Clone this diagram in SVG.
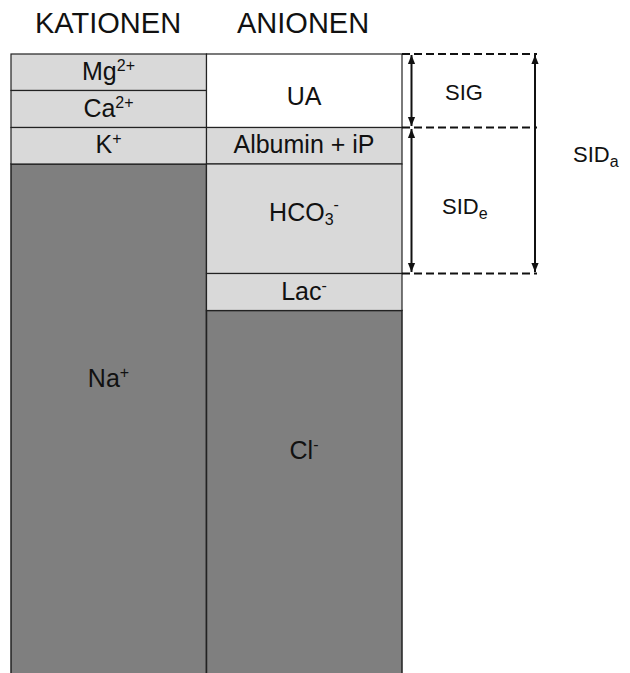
<svg xmlns="http://www.w3.org/2000/svg" width="630" height="673" viewBox="0 0 630 673">
<defs>
<style>
text{font-family:"Liberation Sans",Arial,sans-serif;fill:#111;}
.t{font-size:29px;}
.c{font-size:25px;text-anchor:middle;}
.s{font-size:16px;}
.l{fill:#d9d9d9;stroke:#222;stroke-width:1.2;}
.d{fill:#7f7f7f;stroke:#222;stroke-width:1.5;}
.w{fill:#fff;stroke:#222;stroke-width:1.2;}
.dash{stroke:#111;stroke-width:2;stroke-dasharray:8,4;fill:none;}
.arr{stroke:#111;stroke-width:2;fill:none;marker-start:url(#a);marker-end:url(#a);}
</style>
<marker id="a" viewBox="0 0 10 10" refX="10" refY="5" markerWidth="4.5" markerHeight="4.5" orient="auto-start-reverse" markerUnits="strokeWidth">
<path d="M0,1 L10,5 L0,9 Z" fill="#111"/>
</marker>
</defs>
<rect width="630" height="673" fill="#fff"/>
<text class="t" x="35" y="33">KATIONEN</text>
<text class="t" x="237" y="33">ANIONEN</text>

<g id="na"><rect class="d" x="11" y="164" width="195.5" height="512"/><text class="c" x="108.5" y="387">Na<tspan class="s" dy="-9">+</tspan></text></g>
<g id="cl"><rect class="d" x="206.5" y="310.5" width="195.5" height="366"/><text class="c" x="304" y="459">Cl<tspan class="s" dy="-9">-</tspan></text></g>
<g id="mg"><rect class="l" x="11" y="54" width="195.5" height="36.5"/><text class="c" x="108.5" y="79.5">Mg<tspan class="s" dy="-9">2+</tspan></text></g>
<g id="ca"><rect class="l" x="11" y="90.5" width="195.5" height="37"/><text class="c" x="108.5" y="116.5">Ca<tspan class="s" dy="-9">2+</tspan></text></g>
<g id="k"><rect class="l" x="11" y="127.5" width="195.5" height="36.5"/><text class="c" x="108.5" y="153">K<tspan class="s" dy="-9">+</tspan></text></g>
<g id="ua"><rect class="w" x="206.5" y="54" width="195.5" height="73.5"/><text class="c" x="304" y="105">UA</text></g>
<g id="alb"><rect class="l" x="206.5" y="127.5" width="195.5" height="36.5"/><text class="c" x="304" y="153">Albumin + iP</text></g>
<g id="hco3"><rect class="l" x="206.5" y="164" width="195.5" height="109.5"/><text class="c" x="304" y="221">HCO<tspan class="s" dy="4">3</tspan><tspan class="s" dy="-15">-</tspan></text></g>
<g id="lac"><rect class="l" x="206.5" y="273.5" width="195.5" height="37"/><text class="c" x="304" y="300">Lac<tspan class="s" dy="-9">-</tspan></text></g>

<g id="connectors">
<line class="dash" x1="402" y1="54" x2="537" y2="54"/>
<line class="dash" x1="402" y1="127.5" x2="537" y2="127.5"/>
<line class="dash" x1="402" y1="273.5" x2="537" y2="273.5"/>
<line class="arr" x1="411.5" y1="55" x2="411.5" y2="126"/>
<line class="arr" x1="411.5" y1="129" x2="411.5" y2="272"/>
<line class="arr" x1="535" y1="55" x2="535" y2="272"/>
</g>
<g id="sig"><text x="445" y="99.5" style="font-size:22px">SIG</text></g>
<g id="side"><text x="442" y="214" style="font-size:22px">SID<tspan class="s" dy="5">e</tspan></text></g>
<g id="sida"><text x="573" y="162" style="font-size:22px">SID<tspan class="s" dy="5">a</tspan></text></g>
</svg>
